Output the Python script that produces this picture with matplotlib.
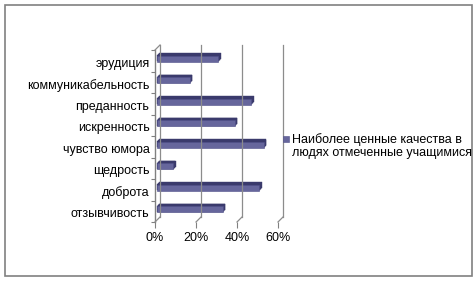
import matplotlib
matplotlib.use("Agg")
import matplotlib.pyplot as plt
import matplotlib.transforms as mtransforms
from matplotlib.patches import Rectangle
from matplotlib.ticker import FuncFormatter

categories = ["отзывчивость", "доброта", "щедрость", "чувство юмора",
              "искренность", "преданность", "коммуникабельность", "эрудиция"]
values = [32, 50, 8, 52, 38, 46, 16, 30]
x_ticks = [0, 20, 40, 60]
series_name = "Наиболее ценные качества в\nлюдях отмеченные учащимися"

plt.rcParams['font.family'] = ['Liberation Sans', 'DejaVu Sans']

W, H, DPI = 477, 282, 100
fig = plt.figure(figsize=(W / DPI, H / DPI), dpi=DPI)
fig.patch.set_facecolor("white")

left_px, right_px, top_px, floor_px = 155, 278, 50, 222
ax = fig.add_axes([left_px / W, (H - floor_px) / H,
                   (right_px - left_px) / W, (floor_px - top_px) / H])
ax.set_xlim(0, 60)
ax.set_ylim(-0.5, len(categories) - 0.5)
ax.patch.set_visible(False)
for s in ax.spines.values():
    s.set_visible(False)

def off(px):
    return ax.transData + mtransforms.ScaledTranslation(px / DPI, px / DPI, fig.dpi_scale_trans)

depth = 5
grid_c = "#8c8c8c"
y0, y1 = -0.5, len(categories) - 0.5
for xv in x_ticks:
    ax.plot([xv, xv], [y0, y1], color=grid_c, lw=0.9, transform=off(depth), clip_on=False)
for xv in x_ticks:
    p_front = ax.transData.transform((xv, y0))
    p_back = off(depth).transform((xv, y0))
    fig.add_artist(plt.Line2D([p_front[0] / W, p_back[0] / W], [p_front[1] / H, p_back[1] / H],
                              color=grid_c, lw=0.9, transform=fig.transFigure))
p_front = ax.transData.transform((0, y1))
p_back = off(depth).transform((0, y1))
fig.add_artist(plt.Line2D([p_front[0] / W, p_back[0] / W], [p_front[1] / H, p_back[1] / H],
                          color=grid_c, lw=0.9, transform=fig.transFigure))
ax.plot([0, 0], [y0, y1], color="#808080", lw=1.0, clip_on=False)

ypos = list(range(len(categories)))
bh = 0.28
k = 4.5
while k > 2.0:
    ax.barh(ypos, values, height=bh, color="#3a3a6c", edgecolor="#3a3a6c", lw=0.3,
            transform=off(k), clip_on=False)
    k -= 0.5
ax.barh(ypos, values, height=bh, color="#66669c", edgecolor="#50508a", lw=0.4,
        transform=off(2.0), clip_on=False)

ax.set_xticks(x_ticks)
ax.xaxis.set_major_formatter(FuncFormatter(lambda v, p: f"{int(v)}%"))
ax.tick_params(axis="x", length=4, width=0.8, color="#808080", pad=3, labelsize=9)
ax.set_yticks([i - 0.5 for i in range(len(categories) + 1)])
ax.set_yticklabels([])
ax.set_yticks(ypos, minor=True)
ax.set_yticklabels(categories, minor=True)
ax.tick_params(axis="y", which="major", length=3, width=0.8, color="#808080")
ax.tick_params(axis="y", which="minor", length=0, pad=4, labelsize=9)
shift = mtransforms.ScaledTranslation(0, -1.5 / DPI, fig.dpi_scale_trans)
for lbl in ax.get_yticklabels(minor=True):
    lbl.set_transform(lbl.get_transform() + shift)

leg_y = 0.5 * ((H - 139) / H + (H - 153) / H)
fig.patches.append(Rectangle((283 / W, (H - 142) / H), 6 / W, 6 / H,
                             transform=fig.transFigure, facecolor="#66669c",
                             edgecolor="#50508a", lw=0.4))
fig.text(292 / W, leg_y, series_name, fontsize=9, va="center", ha="left", linespacing=1.1)

fig.patches.append(Rectangle((5 / W, (H - 276) / H), 467 / W, 271 / H,
                             transform=fig.transFigure, fill=False,
                             edgecolor="#808080", lw=1.2))

fig.savefig("out.png", dpi=DPI, facecolor="white")
